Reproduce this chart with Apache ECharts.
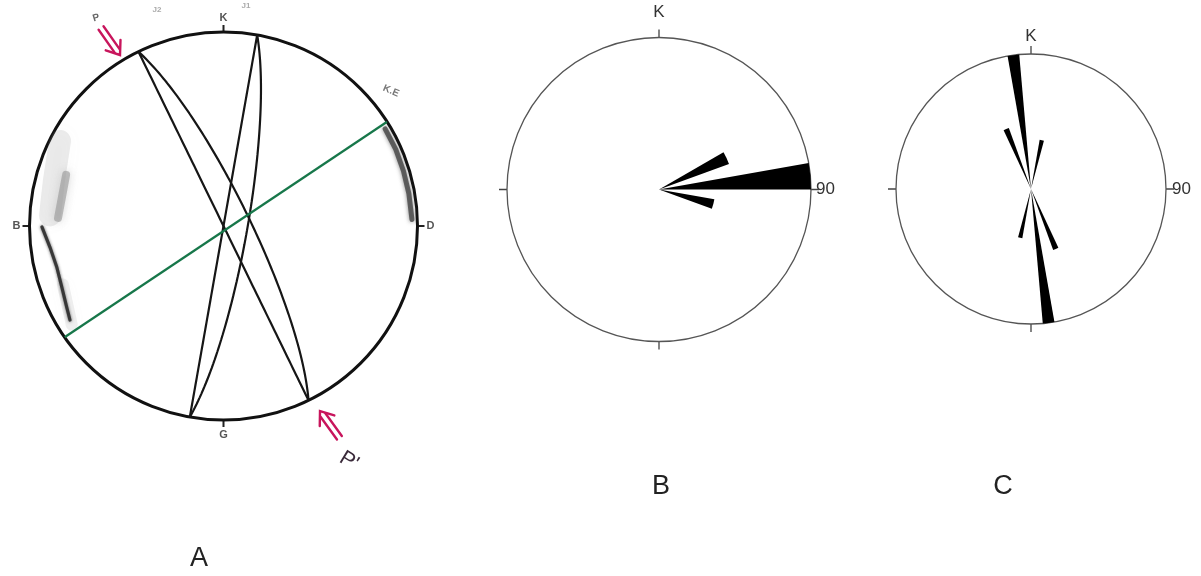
<!DOCTYPE html>
<html>
<head>
<meta charset="utf-8">
<title>Stereonet and rose diagrams</title>
<script src="https://cdn.jsdelivr.net/npm/echarts@6.0.0/dist/echarts.min.js"></script>
<style>
  html, body { margin: 0; padding: 0; background: #fff; }
  #chart { width: 1201px; height: 576px; }
</style>
</head>
<body>
<div id="chart"></div>
<script>
// --- A: stereonet, planes as strike / dip (right-hand rule)
const planeStrikes = [334, 334, 10, 10];
const planeDips = [90, 79, 90, 80];
// green trace, its two ends on the primitive circle (azimuths)
const greenAzimuths = [235, 57.5];

// grey shading marks near the rim, [radius, azimuth]
const shadeLeftBroad = [[0.95, 297.5], [0.905, 285], [0.896, 273.5]];
const shadeLeftBand = [[0.853, 288], [0.846, 280], [0.854, 272.8]];
const shadeLeftStreak = [[0.936, 269.7], [0.901, 263], [0.885, 256], [0.891, 249.3], [0.91, 242.7], [0.928, 238.5]];
const shadeLeftLow = [[0.881, 250], [0.933, 237]];
const shadeRightBand = [[0.972, 59], [0.972, 66], [0.97, 73], [0.97, 80], [0.972, 88]];

// --- B: rose, 10 degree bins (bin start, relative length)
const roseBStarts = [60, 80, 100];
const roseBLengths = [0.49, 1.0, 0.37];

// --- C: rose, 5 degree bins
const roseCStarts = [350, 335, 10, 170, 155, 190];
const roseCLengths = [1.0, 0.48, 0.37, 1.0, 0.48, 0.37];

const D2R = Math.PI / 180;
const FONT = 'Liberation Sans, Arial, sans-serif';
const RED = '#c8155c';

// equal-area (lower hemisphere) trace of a plane -> [radius, azimuth]
function planeTrace(strike, dip) {
  const s = strike * D2R, d = dip * D2R;
  const a = [Math.cos(s), Math.sin(s), 0];
  const b = [Math.cos(d) * Math.cos(s + Math.PI / 2), Math.cos(d) * Math.sin(s + Math.PI / 2), Math.sin(d)];
  const pts = [];
  for (let t = 0; t <= 180; t += 2) {
    const ct = Math.cos(t * D2R), st = Math.sin(t * D2R);
    const n = a[0] * ct + b[0] * st;
    const e = a[1] * ct + b[1] * st;
    const dn = a[2] * ct + b[2] * st;
    const plunge = Math.asin(Math.min(1, Math.max(0, dn)));
    let trend = Math.atan2(e, n) / D2R;
    if (trend < 0) trend += 360;
    pts.push([Math.SQRT2 * Math.sin((Math.PI / 2 - plunge) / 2), trend]);
  }
  return pts;
}

function roseBins(binSize, starts, lengths) {
  const cats = [], vals = [];
  for (let i = 0; i < 360 / binSize; i++) {
    cats.push(String(i * binSize));
    vals.push('-');
  }
  starts.forEach((s, k) => { vals[s / binSize] = lengths[k]; });
  return { cats, vals };
}

const roseB = roseBins(10, roseBStarts, roseBLengths);
const roseC = roseBins(5, roseCStarts, roseCLengths);

const hiddenRadius = i => ({
  polarIndex: i, type: 'value', min: 0, max: 1,
  axisLine: { show: false }, axisTick: { show: false },
  axisLabel: { show: false }, splitLine: { show: false }
});

const catAngle = (i, cats) => ({
  polarIndex: i, type: 'category', data: cats, startAngle: 90, clockwise: true,
  axisLine: { show: false }, axisTick: { show: false },
  axisLabel: { show: false }, splitLine: { show: false }
});

const roseFrame = (i, kPad, labelMargin) => ({
  polarIndex: i, type: 'value', min: 0, max: 360, interval: 90,
  startAngle: 90, clockwise: true,
  axisLine: { lineStyle: { color: '#555', width: 1.3 } },
  axisTick: { length: 8, lineStyle: { color: '#444', width: 1.3 } },
  axisLabel: {
    margin: labelMargin,
    formatter: v => (v === 0 ? '{k|K}' : v === 90 ? '{n|90}' : ''),
    rich: {
      k: { fontSize: 17, color: '#333', fontFamily: FONT, padding: [0, 0, kPad, 0] },
      n: { fontSize: 17, color: '#333', fontFamily: FONT }
    }
  },
  splitLine: { show: false }
});

const planeSeries = planeStrikes.map((s, i) => ({
  type: 'line', coordinateSystem: 'polar', polarIndex: 0,
  data: planeTrace(s, planeDips[i]),
  showSymbol: false, z: 4,
  lineStyle: { color: '#161616', width: 2.2 }
}));

const shade = (data, width, color, blur) => ({
  type: 'line', coordinateSystem: 'polar', polarIndex: 0,
  data, showSymbol: false, z: 1, silent: true,
  lineStyle: { color, width, cap: 'round', join: 'round', shadowBlur: blur, shadowColor: color }
});

function arrow(x, y, rot) {
  const st = { stroke: RED, lineWidth: 2.4, fill: null, lineCap: 'round' };
  return {
    type: 'group', x, y, rotation: rot,
    children: [
      { type: 'polyline', shape: { points: [[-3, -33], [-3, -5]] }, style: st },
      { type: 'polyline', shape: { points: [[3, -33], [3, -5]] }, style: st },
      { type: 'polyline', shape: { points: [[-9, -12], [0, 0], [9, -12]] }, style: st }
    ]
  };
}

function label(text, x, y, size, color, opts) {
  return {
    type: 'text', x, y, rotation: (opts && opts.rot) || 0,
    style: {
      text, fontSize: size, fill: color, fontFamily: FONT,
      fontWeight: (opts && opts.bold) ? 'bold' : 'normal',
      align: 'center', verticalAlign: 'middle'
    }
  };
}

const option = {
  animation: false,
  backgroundColor: '#fff',
  polar: [
    { center: [223.5, 226], radius: 194 },
    { center: [659, 189.5], radius: 152 },
    { center: [1031, 189], radius: 135 },
    { center: [659, 189.5], radius: 152 },
    { center: [1031, 189], radius: 135 }
  ],
  radiusAxis: [0, 1, 2, 3, 4].map(hiddenRadius),
  angleAxis: [
    {
      polarIndex: 0, type: 'value', min: 0, max: 360, interval: 90,
      startAngle: 90, clockwise: true,
      axisLine: { lineStyle: { color: '#111', width: 3 } },
      axisTick: { length: 7, lineStyle: { color: '#222', width: 2 } },
      axisLabel: {
        margin: 9, fontSize: 11, fontWeight: 'bold', color: '#555', fontFamily: FONT,
        formatter: v => ({ 0: 'K', 90: 'D', 180: 'G', 270: 'B' }[v] || '')
      },
      splitLine: { show: false }
    },
    catAngle(1, roseB.cats),
    catAngle(2, roseC.cats),
    roseFrame(3, 12, 5),
    roseFrame(4, 3, 6)
  ],
  series: [
    shade(shadeLeftBroad, 22, 'rgba(150,150,150,0.18)', 18),
    shade(shadeLeftLow, 12, 'rgba(170,170,170,0.18)', 12),
    shade(shadeLeftBand, 8, 'rgba(150,150,150,0.6)', 8),
    shade(shadeLeftStreak, 3.2, 'rgba(40,40,40,0.85)', 3),
    shade(shadeRightBand, 5, 'rgba(70,70,70,0.8)', 4),
    ...planeSeries,
    {
      type: 'line', coordinateSystem: 'polar', polarIndex: 0,
      data: greenAzimuths.map(a => [1, a]),
      showSymbol: false, z: 4,
      lineStyle: { color: '#17774a', width: 2.2 }
    },
    {
      type: 'bar', coordinateSystem: 'polar', polarIndex: 1,
      data: roseB.vals, barCategoryGap: '0%',
      itemStyle: { color: '#000' }
    },
    {
      type: 'bar', coordinateSystem: 'polar', polarIndex: 2,
      data: roseC.vals, barCategoryGap: '0%',
      itemStyle: { color: '#000' }
    }
  ],
  graphic: [
    arrow(120, 55, 35 * D2R),
    arrow(320, 411, Math.PI + 36 * D2R),
    label('P', 96, 18, 10, '#666', { bold: true, rot: 0.3 }),
    label('J2', 157, 10, 8, '#aaa', { bold: true }),
    label('J1', 246, 6, 8, '#aaa', { bold: true }),
    label('K.E', 391, 91, 10, '#777', { bold: true, rot: -0.4 }),
    label("P'", 349, 461, 21, '#3a2a3a', { rot: -0.55 }),
    label('A', 199, 559, 27, '#222'),
    label('B', 661, 487, 27, '#222'),
    label('C', 1003, 487, 27, '#222')
  ]
};

const chart = echarts.init(document.getElementById('chart'));
chart.setOption(option);
</script>
</body>
</html>
